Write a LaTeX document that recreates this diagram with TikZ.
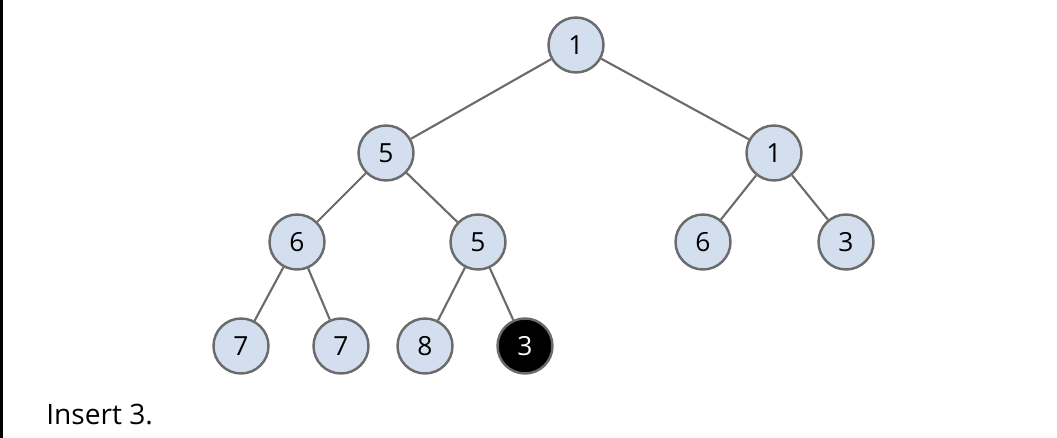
\documentclass[tikz,border=0pt]{standalone}
\usepackage{fontspec}
\setmainfont{Open Sans}
\definecolor{nodeblue}{HTML}{D3DFEE}
\definecolor{edgegray}{HTML}{6B6B6B}
\begin{document}
\begin{tikzpicture}[x=0.02cm,y=-0.02cm,
        nsty/.style={
            draw=edgegray,circle,line width=1.4pt,fill=nodeblue,
            minimum size=1.1cm,inner sep=0pt,font=\fontsize{15}{15}\selectfont
        },
        hsty/.style={fill=black,text=white},
        esty/.style={draw=edgegray,line width=1.2pt},
    ]
    \useasboundingbox (0,0) rectangle (1057,438);
    \fill[black] (0,0) rectangle (3,438);

    \foreach \n/\ox/\oy/\v in {r/576/45/1,a/386/153/5,b/774/153/1,
        aa/297/242/6,ab/478/242/5,ba/703/242/6,bb/846/242/3,
        aaa/241/346/7,aab/341/346/7,aba/425/346/8}{
        \node[nsty] at (\ox,\oy) (n\n) {\v};
    }
    \node[nsty,hsty] at (525,346) (nabb) {3};

    \draw[esty] (nr) -- (na);
    \draw[esty] (nr) -- (nb);
    \draw[esty] (na) -- (naa);
    \draw[esty] (na) -- (nab);
    \draw[esty] (nb) -- (nba);
    \draw[esty] (nb) -- (nbb);
    \draw[esty] (naa) -- (naaa);
    \draw[esty] (naa) -- (naab);
    \draw[esty] (nab) -- (naba);
    \draw[esty] (nab) -- (nabb);

    \node[anchor=base west,font=\fontsize{16}{16}\selectfont,inner sep=0pt] at (46,424) (cap) {Insert 3.};
\end{tikzpicture}
\end{document}
